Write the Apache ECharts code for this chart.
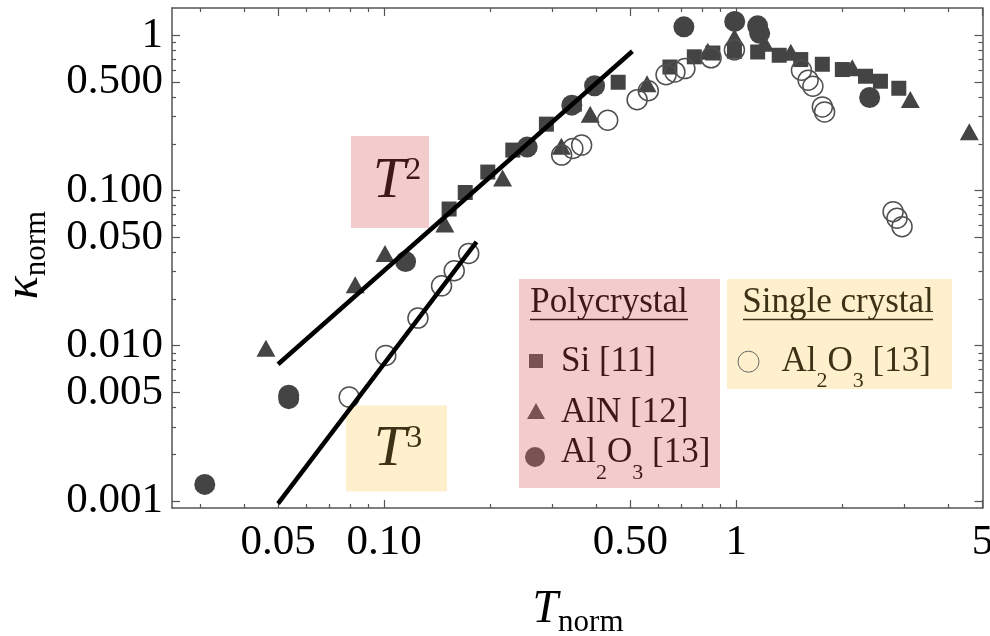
<!DOCTYPE html>
<html>
<head>
<meta charset="utf-8">
<script src="https://cdn.jsdelivr.net/npm/echarts@6/dist/echarts.min.js"></script>
<style>
  html, body { margin: 0; padding: 0; background: #fff; }
  #chart { width: 990px; height: 636px; }
</style>
</head>
<body>
<div id="chart"></div>
<script>
// Normalised thermal conductivity vs normalised temperature (log-log)

const xTickValues = [0.05, 0.1, 0.5, 1, 5];
const xTickLabels = ['0.05', '0.10', '0.50', '1', '5'];
const xMinorTicks = [0.03, 0.04, 0.06, 0.07, 0.08, 0.09, 0.2, 0.3, 0.4, 0.6, 0.7, 0.8, 0.9, 2, 3, 4];

const yTickValues = [0.001, 0.005, 0.01, 0.05, 0.1, 0.5, 1];
const yTickLabels = ['0.001', '0.005', '0.010', '0.050', '0.100', '0.500', '1'];
const yMinorTicks = [0.002, 0.003, 0.004, 0.006, 0.007, 0.008, 0.009,
                     0.02, 0.03, 0.04, 0.06, 0.07, 0.08, 0.09,
                     0.2, 0.3, 0.4, 0.6, 0.7, 0.8, 0.9];

// Polycrystal Si [11]
const siT = [0.153, 0.170, 0.197, 0.232, 0.289, 0.347, 0.462, 0.648, 0.760, 0.858,
             0.988, 1.150, 1.324, 1.524, 1.755, 2.000, 2.327, 2.566, 2.893];
const siK = [0.0760, 0.0971, 0.1315, 0.1822, 0.2677, 0.360, 0.4985, 0.625, 0.727, 0.769,
             0.789, 0.781, 0.744, 0.698, 0.651, 0.602, 0.545, 0.506, 0.456];

// Polycrystal AlN [12]
const alnT = [0.0462, 0.0828, 0.1006, 0.1488, 0.217, 0.3187, 0.3848, 0.558, 0.830, 0.988,
              1.203, 1.428, 2.134, 3.119, 4.586];
const alnK = [0.00964, 0.0247, 0.0393, 0.0609, 0.1203, 0.1932, 0.3104, 0.4876, 0.789, 0.971,
              0.888, 0.777, 0.618, 0.386, 0.2395];

// Polycrystal Al2O3 [13]
const polyAlT = [0.03097, 0.05361, 0.05361, 0.1151, 0.2549, 0.3412, 0.3959, 0.7099,
                 0.9896, 1.1495, 1.165, 2.391];
const polyAlK = [0.001277, 0.00456, 0.0048, 0.03484, 0.1905, 0.3547, 0.4734, 1.134,
                 1.23, 1.151, 1.03, 0.3975];

// Single crystal Al2O3 [13]
const singleAlT = [0.0796, 0.1011, 0.1248, 0.1456, 0.1582, 0.1739, 0.3193, 0.3435, 0.3638,
                   0.4314, 0.5229, 0.5627, 0.6317, 0.6695, 0.7146, 0.8481, 0.9877,
                   1.531, 1.599, 1.650, 1.755, 1.781, 2.787, 2.860, 2.955];
const singleAlK = [0.004665, 0.00866, 0.01507, 0.0243, 0.0304, 0.0393, 0.1692, 0.1868, 0.1962,
                   0.284, 0.3847, 0.4395, 0.557, 0.5808, 0.6105, 0.7166, 0.8065,
                   0.5955, 0.5137, 0.4699, 0.3458, 0.3211, 0.0731, 0.0663, 0.0585];

// Power-law guide lines (end points)
const fitT2T = [0.05, 0.507];
const fitT2K = [0.0076, 0.79];
const fitT3T = [0.05, 0.183];
const fitT3K = [0.00096, 0.0466];

const X_MIN = 0.025, X_MAX = 5;
const Y_MIN = 0.0009, Y_MAX = 1.5;

const SERIF = 'Liberation Serif';
const AXIS_GREY = '#555';
const MARK = '#444';

const zip = (a, b) => a.map((v, i) => [v, b[i]]);
const labelFor = (values, labels) => (v) => {
  const i = values.findIndex(t => Math.abs(Math.log10(t) - Math.log10(v)) < 1e-6);
  return i >= 0 ? labels[i] : '';
};

function xAxisDef(position, values, len, withLine, withLabels) {
  return {
    type: 'log', logBase: 10, min: X_MIN, max: X_MAX, position: position,
    axisLine: { show: withLine, onZero: false, lineStyle: { color: AXIS_GREY, width: 1.5 } },
    axisTick: { show: true, inside: true, length: len, customValues: values,
                lineStyle: { color: AXIS_GREY, width: 1.2 } },
    axisLabel: withLabels ? {
      show: true, customValues: values, formatter: labelFor(xTickValues, xTickLabels),
      fontFamily: SERIF, fontSize: 43, color: '#000', margin: 13,
      alignMinLabel: 'center', alignMaxLabel: 'center', hideOverlap: false
    } : { show: false },
    splitLine: { show: false }, minorTick: { show: false }
  };
}
function yAxisDef(position, values, len, withLine, withLabels) {
  return {
    type: 'log', logBase: 10, min: Y_MIN, max: Y_MAX, position: position,
    axisLine: { show: withLine, onZero: false, lineStyle: { color: AXIS_GREY, width: 1.5 } },
    axisTick: { show: true, inside: true, length: len, customValues: values,
                lineStyle: { color: AXIS_GREY, width: 1.2 } },
    axisLabel: withLabels ? {
      show: true, customValues: values, formatter: labelFor(yTickValues, yTickLabels),
      fontFamily: SERIF, fontSize: 43, color: '#000', margin: 9
    } : { show: false },
    splitLine: { show: false }, minorTick: { show: false }
  };
}

const chart = echarts.init(document.getElementById('chart'), null, { renderer: 'canvas' });

const PINK = '#f2cccd';
const YELLOW = '#fef0cd';
const PINK_TEXT = '#3f1718';
const YELLOW_TEXT = '#3e3216';
const LEGEND_MARK = '#7a5253';

const subRich = (size, color) => ({
  m: { fontFamily: SERIF, fontSize: size, fill: color },
  s: { fontFamily: SERIF, fontSize: Math.round(size * 0.63), fill: color, padding: [40, 0, 0, 0] }
});

const option = {
  animation: false,
  backgroundColor: '#fff',
  grid: { left: 172, top: 8, width: 810.5, height: 500, containLabel: false, outerBoundsMode: 'none' },
  xAxis: [
    xAxisDef('bottom', xTickValues, 8, true, true),
    xAxisDef('bottom', xMinorTicks, 4, false, false),
    xAxisDef('top', xTickValues, 8, true, false),
    xAxisDef('top', xMinorTicks, 4, false, false)
  ],
  yAxis: [
    yAxisDef('left', yTickValues, 8, true, true),
    yAxisDef('left', yMinorTicks, 4, false, false),
    yAxisDef('right', yTickValues, 8, true, false),
    yAxisDef('right', yMinorTicks, 4, false, false)
  ],
  graphic: [
    // annotation boxes
    { type: 'rect', z: 0, shape: { x: 351, y: 136, width: 78, height: 92 }, style: { fill: PINK } },
    { type: 'rect', z: 0, shape: { x: 346, y: 405.5, width: 101, height: 86 }, style: { fill: YELLOW } },
    { type: 'text', z: 10, x: 397, y: 182, style: {
        text: '{t|T}{p|2}', align: 'center', verticalAlign: 'middle',
        rich: {
          t: { fontFamily: SERIF, fontStyle: 'italic', fontSize: 58, fill: PINK_TEXT },
          p: { fontFamily: SERIF, fontSize: 32, fill: PINK_TEXT, padding: [0, 0, 22, 0] }
        } } },
    { type: 'text', z: 10, x: 398, y: 450, style: {
        text: '{t|T}{p|3}', align: 'center', verticalAlign: 'middle',
        rich: {
          t: { fontFamily: SERIF, fontStyle: 'italic', fontSize: 58, fill: YELLOW_TEXT },
          p: { fontFamily: SERIF, fontSize: 32, fill: YELLOW_TEXT, padding: [0, 0, 22, 0] }
        } } },

    // legend boxes
    { type: 'rect', z: 0, shape: { x: 519, y: 279, width: 201, height: 209 }, style: { fill: PINK } },
    { type: 'rect', z: 0, shape: { x: 727, y: 279, width: 225, height: 110 }, style: { fill: YELLOW } },

    { type: 'text', z: 10, x: 609, y: 303, style: {
        text: 'Polycrystal', fontFamily: SERIF, fontSize: 35, fill: PINK_TEXT,
        align: 'center', verticalAlign: 'middle' } },
    { type: 'line', z: 10, shape: { x1: 530, y1: 319.5, x2: 688, y2: 319.5 },
      style: { stroke: PINK_TEXT, lineWidth: 1.5 } },
    { type: 'text', z: 10, x: 838, y: 303, style: {
        text: 'Single crystal', fontFamily: SERIF, fontSize: 35, fill: YELLOW_TEXT,
        align: 'center', verticalAlign: 'middle' } },
    { type: 'line', z: 10, shape: { x1: 743, y1: 319.5, x2: 933, y2: 319.5 },
      style: { stroke: YELLOW_TEXT, lineWidth: 1.5 } },

    { type: 'rect', z: 10, shape: { x: 529, y: 354, width: 14, height: 14 }, style: { fill: LEGEND_MARK } },
    { type: 'text', z: 10, x: 561, y: 361.5, style: {
        text: 'Si [11]', fontFamily: SERIF, fontSize: 35, fill: PINK_TEXT,
        align: 'left', verticalAlign: 'middle' } },
    { type: 'polygon', z: 10, shape: { points: [[536, 403], [545, 419], [527, 419]] }, style: { fill: LEGEND_MARK } },
    { type: 'text', z: 10, x: 561, y: 413.2, style: {
        text: 'AlN [12]', fontFamily: SERIF, fontSize: 35, fill: PINK_TEXT,
        align: 'left', verticalAlign: 'middle' } },
    { type: 'circle', z: 10, shape: { cx: 535, cy: 457, r: 10 }, style: { fill: LEGEND_MARK } },
    { type: 'text', z: 10, x: 561, y: 453.2, style: {
        text: '{m|Al}{s|2}{m|O}{s|3}{m| [13]}', align: 'left', verticalAlign: 'middle',
        rich: subRich(35, PINK_TEXT) } },

    { type: 'circle', z: 10, shape: { cx: 748.5, cy: 361.7, r: 10.5 },
      style: { fill: 'none', stroke: '#666', lineWidth: 1 } },
    { type: 'text', z: 10, x: 781.5, y: 361.5, style: {
        text: '{m|Al}{s|2}{m|O}{s|3}{m| [13]}', align: 'left', verticalAlign: 'middle',
        rich: subRich(35, YELLOW_TEXT) } },

    // axis titles
    { type: 'text', z: 10, x: 578, y: 610, style: {
        text: '{t|T}{s|norm}', align: 'center', verticalAlign: 'middle',
        rich: {
          t: { fontFamily: SERIF, fontStyle: 'italic', fontSize: 46, fill: '#000' },
          s: { fontFamily: SERIF, fontSize: 31, fill: '#000', padding: [26, 0, 0, 0] }
        } } },
    { type: 'text', z: 10, x: 24, y: 255, rotation: Math.PI / 2, style: {
        text: '{t|κ}{s|norm}', align: 'center', verticalAlign: 'middle',
        rich: {
          t: { fontFamily: SERIF, fontStyle: 'italic', fontSize: 48, fill: '#000' },
          s: { fontFamily: SERIF, fontSize: 31, fill: '#000', padding: [26, 0, 0, 0] }
        } } }
  ],
  series: [
    { name: 'Si [11]', type: 'scatter', symbol: 'rect', symbolSize: 15,
      itemStyle: { color: MARK, opacity: 1 }, data: zip(siT, siK) },
    { name: 'AlN [12]', type: 'scatter', symbol: 'triangle', symbolSize: [19, 17],
      itemStyle: { color: MARK, opacity: 1 }, data: zip(alnT, alnK) },
    { name: 'Al2O3 poly [13]', type: 'scatter', symbol: 'circle', symbolSize: 21,
      itemStyle: { color: MARK, opacity: 1 }, data: zip(polyAlT, polyAlK) },
    { name: 'Al2O3 single [13]', type: 'scatter', symbol: 'circle', symbolSize: 20,
      itemStyle: { color: 'rgba(0,0,0,0)', borderColor: '#505050', borderWidth: 1.5, opacity: 1 },
      data: zip(singleAlT, singleAlK) },
    { name: 'T2', type: 'line', symbol: 'none', z: 5,
      lineStyle: { color: '#000', width: 4.5 }, data: zip(fitT2T, fitT2K) },
    { name: 'T3', type: 'line', symbol: 'none', z: 5,
      lineStyle: { color: '#000', width: 4.5 }, data: zip(fitT3T, fitT3K) }
  ]
};

chart.setOption(option);
</script>
</body>
</html>
